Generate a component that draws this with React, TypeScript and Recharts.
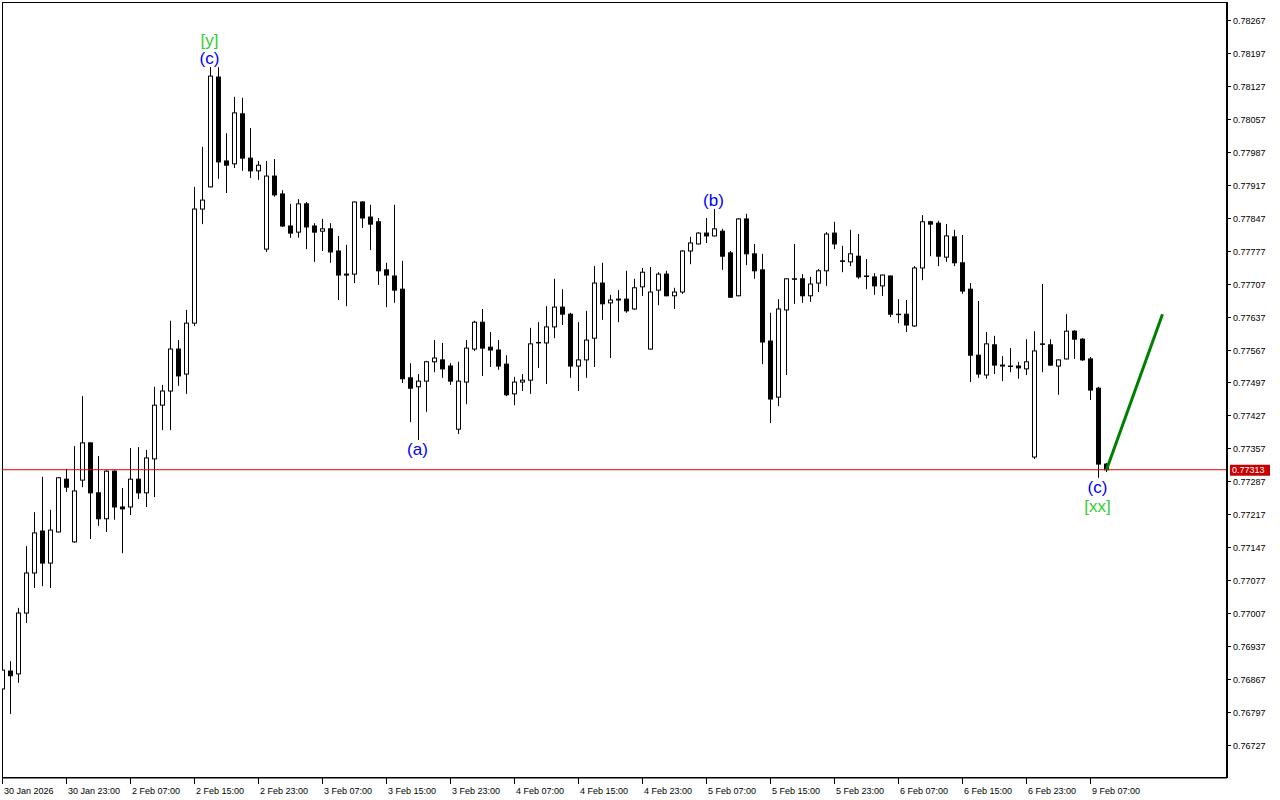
import React from 'react'
import {
  ComposedChart, Bar, XAxis, YAxis,
  ReferenceLine, ReferenceDot, ReferenceArea,
} from 'recharts'

// H1 candles, 30 Jan 15:00 → 9 Feb 09:00
const opens = [
  0.76848, 0.76886, 0.76880, 0.77009, 0.77094, 0.77183, 0.77115, 0.77181, 0.77293, 0.77160,
  0.77291, 0.77370, 0.77264, 0.77209, 0.77310, 0.77234, 0.77234, 0.77293, 0.77264, 0.77336,
  0.77450, 0.77480, 0.77569, 0.77516, 0.77624, 0.77866, 0.77913, 0.78146, 0.77968, 0.77962,
  0.78068, 0.77974, 0.77947, 0.77781, 0.77936, 0.77898, 0.77830, 0.77817, 0.77877, 0.77830,
  0.77819, 0.77824, 0.77777, 0.77728, 0.77728, 0.77881, 0.77849, 0.77839, 0.77737, 0.77724,
  0.77696, 0.77508, 0.77489, 0.77501, 0.77542, 0.77546, 0.77533, 0.77399, 0.77499, 0.77569,
  0.77626, 0.77573, 0.77567, 0.77537, 0.77474, 0.77499, 0.77503, 0.77582, 0.77582, 0.77616,
  0.77658, 0.77643, 0.77533, 0.77546, 0.77592, 0.77709, 0.77667, 0.77675, 0.77675, 0.77654,
  0.77701, 0.77569, 0.77694, 0.77728, 0.77682, 0.77690, 0.77777, 0.77792, 0.77815, 0.77809,
  0.77819, 0.77773, 0.77682, 0.77845, 0.77771, 0.77737, 0.77586, 0.77467, 0.77652, 0.77718,
  0.77718, 0.77682, 0.77709, 0.77735, 0.77815, 0.77756, 0.77754, 0.77766, 0.77724, 0.77722,
  0.77703, 0.77724, 0.77643, 0.77643, 0.77618, 0.77741, 0.77839, 0.77836, 0.77764, 0.77807,
  0.77752, 0.77696, 0.77556, 0.77514, 0.77578, 0.77535, 0.77533, 0.77533, 0.77527, 0.77340,
  0.77580, 0.77578, 0.77533, 0.77548, 0.77607, 0.77590, 0.77548, 0.77486, 0.77325,
]
const highs = [
  0.76892, 0.76907, 0.77020, 0.77151, 0.77223, 0.77298, 0.77228, 0.77297, 0.77315, 0.77363,
  0.77469, 0.77371, 0.77342, 0.77312, 0.77312, 0.77274, 0.77359, 0.77361, 0.77355, 0.77489,
  0.77493, 0.77629, 0.77588, 0.77652, 0.77913, 0.77998, 0.78167, 0.78167, 0.78027, 0.78104,
  0.78102, 0.78038, 0.77968, 0.77968, 0.77972, 0.77906, 0.77877, 0.77887, 0.77881, 0.77836,
  0.77845, 0.77836, 0.77809, 0.77790, 0.77882, 0.77883, 0.77875, 0.77847, 0.77752, 0.77875,
  0.77756, 0.77539, 0.77516, 0.77544, 0.77588, 0.77582, 0.77539, 0.77542, 0.77588, 0.77629,
  0.77654, 0.77605, 0.77588, 0.77556, 0.77510, 0.77516, 0.77614, 0.77626, 0.77660, 0.77718,
  0.77696, 0.77646, 0.77626, 0.77650, 0.77745, 0.77752, 0.77684, 0.77694, 0.77735, 0.77718,
  0.77741, 0.77743, 0.77732, 0.77735, 0.77699, 0.77779, 0.77807, 0.77817, 0.77847, 0.77866,
  0.77824, 0.77777, 0.77847, 0.77856, 0.77792, 0.77771, 0.77646, 0.77675, 0.77719, 0.77792,
  0.77728, 0.77722, 0.77739, 0.77817, 0.77839, 0.77788, 0.77822, 0.77813, 0.77760, 0.77730,
  0.77727, 0.77725, 0.77675, 0.77673, 0.77745, 0.77853, 0.77841, 0.77841, 0.77834, 0.77822,
  0.77811, 0.77709, 0.77671, 0.77605, 0.77597, 0.77554, 0.77571, 0.77542, 0.77590, 0.77607,
  0.77707, 0.77590, 0.77547, 0.77643, 0.77609, 0.77592, 0.77552, 0.77489, 0.77327,
]
const lows = [
  0.76842, 0.76795, 0.76861, 0.76988, 0.77062, 0.77066, 0.77062, 0.77180, 0.77266, 0.77158,
  0.77276, 0.77166, 0.77194, 0.77181, 0.77207, 0.77136, 0.77217, 0.77251, 0.77234, 0.77255,
  0.77397, 0.77397, 0.77491, 0.77474, 0.77618, 0.77834, 0.77912, 0.77930, 0.77900, 0.77953,
  0.77947, 0.77932, 0.77928, 0.77775, 0.77892, 0.77828, 0.77805, 0.77805, 0.77781, 0.77754,
  0.77777, 0.77752, 0.77673, 0.77660, 0.77709, 0.77826, 0.77779, 0.77705, 0.77658, 0.77667,
  0.77497, 0.77414, 0.77376, 0.77436, 0.77520, 0.77508, 0.77493, 0.77389, 0.77452, 0.77565,
  0.77512, 0.77531, 0.77525, 0.77469, 0.77450, 0.77480, 0.77474, 0.77529, 0.77495, 0.77592,
  0.77620, 0.77508, 0.77480, 0.77508, 0.77531, 0.77631, 0.77550, 0.77626, 0.77646, 0.77652,
  0.77682, 0.77568, 0.77662, 0.77681, 0.77654, 0.77686, 0.77749, 0.77791, 0.77794, 0.77808,
  0.77737, 0.77678, 0.77681, 0.77747, 0.77718, 0.77537, 0.77412, 0.77448, 0.77514, 0.77665,
  0.77667, 0.77669, 0.77690, 0.77703, 0.77781, 0.77732, 0.77745, 0.77718, 0.77696, 0.77684,
  0.77682, 0.77637, 0.77624, 0.77605, 0.77616, 0.77715, 0.77766, 0.77745, 0.77754, 0.77745,
  0.77686, 0.77499, 0.77508, 0.77506, 0.77516, 0.77501, 0.77520, 0.77506, 0.77514, 0.77336,
  0.77520, 0.77533, 0.77472, 0.77547, 0.77548, 0.77544, 0.77461, 0.77296, 0.77308,
]
const closes = [
  0.76888, 0.76876, 0.77009, 0.77094, 0.77179, 0.77115, 0.77185, 0.77296, 0.77276, 0.77268,
  0.77370, 0.77264, 0.77209, 0.77310, 0.77234, 0.77230, 0.77293, 0.77264, 0.77338, 0.77450,
  0.77480, 0.77569, 0.77512, 0.77624, 0.77866, 0.77885, 0.78148, 0.77966, 0.77959, 0.78070,
  0.77974, 0.77947, 0.77959, 0.77936, 0.77896, 0.77830, 0.77815, 0.77877, 0.77828, 0.77817,
  0.77824, 0.77775, 0.77726, 0.77726, 0.77881, 0.77847, 0.77834, 0.77735, 0.77726, 0.77694,
  0.77506, 0.77486, 0.77501, 0.77542, 0.77550, 0.77527, 0.77501, 0.77501, 0.77571, 0.77626,
  0.77571, 0.77567, 0.77533, 0.77472, 0.77499, 0.77503, 0.77580, 0.77583, 0.77616, 0.77658,
  0.77643, 0.77533, 0.77546, 0.77588, 0.77709, 0.77665, 0.77673, 0.77673, 0.77650, 0.77699,
  0.77732, 0.77690, 0.77728, 0.77682, 0.77690, 0.77777, 0.77794, 0.77815, 0.77809, 0.77824,
  0.77766, 0.77679, 0.77845, 0.77771, 0.77735, 0.77584, 0.77463, 0.77654, 0.77718, 0.77717,
  0.77682, 0.77707, 0.77735, 0.77813, 0.77792, 0.77755, 0.77771, 0.77722, 0.77723, 0.77703,
  0.77726, 0.77643, 0.77642, 0.77620, 0.77741, 0.77839, 0.77834, 0.77766, 0.77809, 0.77752,
  0.77692, 0.77556, 0.77516, 0.77580, 0.77535, 0.77533, 0.77532, 0.77529, 0.77542, 0.77565,
  0.77579, 0.77535, 0.77546, 0.77607, 0.77590, 0.77546, 0.77482, 0.77325, 0.77313,
]

const timeTicks = [0, 8, 16, 24, 32, 40, 48, 56, 64, 72, 80, 88, 96, 104, 112, 120, 128, 136]
const timeLabels = [
  '30 Jan 2026', '30 Jan 23:00', '2 Feb 07:00', '2 Feb 15:00', '2 Feb 23:00', '3 Feb 07:00',
  '3 Feb 15:00', '3 Feb 23:00', '4 Feb 07:00', '4 Feb 15:00', '4 Feb 23:00', '5 Feb 07:00',
  '5 Feb 15:00', '5 Feb 23:00', '6 Feb 07:00', '6 Feb 15:00', '6 Feb 23:00', '9 Feb 07:00',
]
const priceTicks = [
  0.76727, 0.76797, 0.76867, 0.76937, 0.77007, 0.77077, 0.77147, 0.77217, 0.77287, 0.77357,
  0.77427, 0.77497, 0.77567, 0.77637, 0.77707, 0.77777, 0.77847, 0.77917, 0.77987, 0.78057,
  0.78127, 0.78197, 0.78267,
]
const lastPrice = 0.77313

// wave labels (Elliott count)
const waveText = ['[y]', '(c)', '(a)', '(b)', '(c)', '[xx]']
const waveIdx = [26, 26, 52, 89, 137, 137]
const waveAnchor = [0.78167, 0.78167, 0.77376, 0.77866, 0.77296, 0.77296]

// projected move
const projX = [138, 145]
const projY = [0.77313, 0.77643]

// layout / style
const X_MIN = -0.0625
const X_MAX = 153.0625
const Y_MIN = 0.766591
const Y_MAX = 0.783052
const FONT = '"Liberation Sans", Arial, sans-serif'
const WAVE_DY = [-27, -9, 9, -9, 10, 29]
const WAVE_COLOR = ['#32CD32', '#0000FF', '#0000FF', '#0000FF', '#0000FF', '#32CD32']

const candles = opens.map((o, i) => ({
  i, o, h: highs[i], l: lows[i], c: closes[i], range: [lows[i], highs[i]],
}))

function Candle(props: any) {
  const { x, y, width, height, payload } = props
  if (!payload) return null
  const { o, h, l, c } = payload
  const cx = Math.round(x + width / 2 - 0.5) + 0.5
  const k = h === l ? 0 : height / (h - l)
  const py = (v: number) => y + (h - v) * k
  const top = py(Math.max(o, c))
  const bot = py(Math.min(o, c))
  const up = c >= o
  return (
    <g>
      <line x1={cx} x2={cx} y1={y} y2={y + height} stroke="#000" />
      <rect x={cx - 2} y={top} width={4} height={Math.max(bot - top, 0.4)}
        fill={up ? '#fff' : '#000'} stroke="#000" />
    </g>
  )
}

function TimeTick(props: any) {
  const { x, y, payload } = props
  const label = timeLabels[timeTicks.indexOf(payload.value)]
  const tx = Math.round(x - 0.5) + 0.5
  return (
    <g>
      <line x1={tx} x2={tx} y1={y} y2={y + 6} stroke="#000" />
      <text x={tx + 1.5} y={y + 16} textAnchor="start" fontSize={9} fontFamily={FONT} fill="#000">
        {label}
      </text>
    </g>
  )
}

function PriceTick(props: any) {
  const { x, y, payload } = props
  const ty = Math.round(y - 0.5) + 0.5
  return (
    <g>
      <line x1={x} x2={x + 4} y1={ty} y2={ty} stroke="#000" />
      <text x={x + 6} y={y + 3.5} textAnchor="start" fontSize={9} fontFamily={FONT} fill="#000">
        {Number(payload.value).toFixed(5)}
      </text>
    </g>
  )
}

function PriceTag(props: any) {
  const { cx, cy } = props
  return (
    <g>
      <rect x={cx + 3} y={cy - 5} width={40} height={11} fill="#C80000" />
      <text x={cx + 5} y={cy + 3.5} fontSize={9} fontFamily={FONT} fill="#fff">
        {lastPrice.toFixed(5)}
      </text>
    </g>
  )
}

export default function App() {
  return (
    <div style={{ position: 'absolute', left: 0, top: 0, width: 1280, height: 800, background: '#fff' }}>
      <ComposedChart width={1280} height={800} data={candles}
        margin={{ top: 2, right: 0, left: 2, bottom: 0 }}>
        <XAxis type="number" dataKey="i" domain={[X_MIN, X_MAX]} allowDataOverflow
          ticks={timeTicks} interval={0} tick={<TimeTick />} tickLine={false}
          tickSize={0} tickMargin={0} axisLine={{ stroke: '#000' }} height={22} />
        <YAxis orientation="right" type="number" domain={[Y_MIN, Y_MAX]} allowDataOverflow
          ticks={priceTicks} interval={0} tick={<PriceTick />} tickLine={false}
          tickSize={0} tickMargin={0} axisLine={{ stroke: '#000', strokeWidth: 2 }} width={53} />
        <ReferenceArea x1={X_MIN} x2={X_MAX} y1={Y_MIN} y2={Y_MAX}
          shape={(p: any) => (
            <rect x={p.x + 0.5} y={p.y + 0.5} width={p.width - 1} height={p.height - 1}
              fill="none" stroke="#000" />
          )} />
        <Bar dataKey="range" barSize={5} isAnimationActive={false}
          shape={(p: any) => <Candle {...p} />} />
        <ReferenceLine y={lastPrice} stroke="#E00000" strokeWidth={1} />
        <ReferenceLine segment={[{ x: projX[0], y: projY[0] }, { x: projX[1], y: projY[1] }]}
          stroke="#008000" strokeWidth={3} />
        <ReferenceDot x={X_MAX} y={lastPrice} r={0} shape={(p: any) => <PriceTag {...p} />} />
        {waveText.map((t, k) => (
          <ReferenceDot key={k} x={waveIdx[k]} y={waveAnchor[k]} r={0}
            shape={(p: any) => (
              <text x={p.cx - 1} y={p.cy + WAVE_DY[k]} textAnchor="middle" dominantBaseline="central"
                fill={WAVE_COLOR[k]} fontSize={17} fontFamily={FONT}>{t}</text>
            )} />
        ))}
      </ComposedChart>
    </div>
  )
}
